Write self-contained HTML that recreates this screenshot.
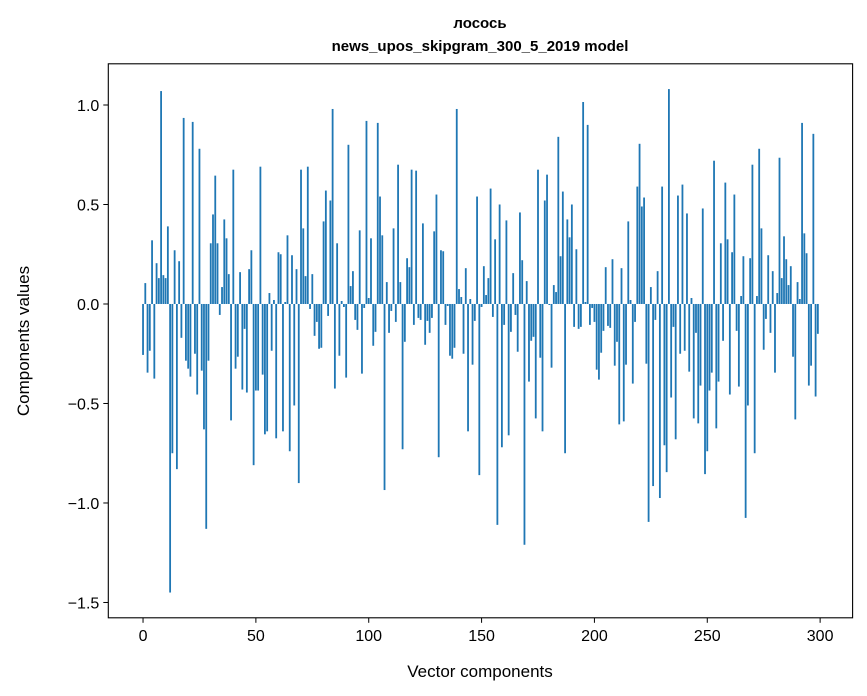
<!DOCTYPE html>
<html><head><meta charset="utf-8"><style>
body{margin:0;background:#fff;}
svg{display:block;font-family:"Liberation Sans","DejaVu Sans",sans-serif;}
</style></head><body>
<svg id="chart" width="867" height="696" viewBox="0 0 867 696" xmlns="http://www.w3.org/2000/svg">
<text x="480" y="28" text-anchor="middle" font-size="15" font-weight="bold">лосось</text>
<text x="480" y="51" text-anchor="middle" font-size="15" font-weight="bold">news_upos_skipgram_300_5_2019 model</text>
<g id="bars"></g>
<g id="axes"></g>
<text x="480" y="677" text-anchor="middle" font-size="17">Vector components</text>
<text transform="translate(29,341) rotate(-90)" text-anchor="middle" font-size="17">Components values</text>
</svg>
<script>
const values = [
-0.256,0.105,-0.345,-0.235,0.32,-0.375,0.205,0.13,1.07,0.145,
0.13,0.39,-1.45,-0.75,0.27,-0.83,0.215,-0.17,0.935,-0.285,
-0.325,-0.365,0.915,-0.25,-0.455,0.78,-0.335,-0.63,-1.13,-0.285,
0.305,0.45,0.645,0.305,-0.055,0.085,0.425,0.33,0.15,-0.585,
0.675,-0.325,-0.265,0.16,-0.43,-0.125,-0.445,0.175,0.27,-0.81,
-0.435,-0.435,0.69,-0.355,-0.655,-0.64,0.055,-0.235,0.02,-0.675,
0.26,0.25,-0.64,0.01,0.345,-0.74,0.245,-0.51,0.175,-0.9,
0.675,0.38,0.14,0.69,-0.025,0.15,-0.16,-0.09,-0.225,-0.22,
0.415,0.57,-0.06,0.52,0.98,-0.425,0.305,-0.26,0.015,-0.015,
-0.37,0.80,0.09,0.165,-0.08,-0.13,0.37,-0.35,-0.02,0.92,
0.03,0.33,-0.21,-0.14,0.91,0.54,0.345,-0.935,0.11,-0.145,
-0.035,0.38,-0.09,0.70,0.11,-0.73,-0.19,0.23,0.185,0.675,
-0.105,0.67,-0.07,-0.08,0.405,-0.205,-0.085,-0.145,-0.07,0.365,
0.55,-0.77,0.27,0.265,-0.105,-0.01,-0.26,-0.275,-0.22,0.98,
0.075,0.035,-0.25,0.18,-0.64,0.025,-0.305,-0.085,0.54,-0.86,
-0.015,0.19,0.045,0.13,0.58,-0.065,0.325,-1.11,0.50,-0.72,
-0.105,0.42,-0.66,-0.14,0.155,-0.055,-0.24,0.46,0.22,-1.21,
0.115,-0.39,-0.185,-0.165,-0.575,0.675,-0.27,-0.64,0.52,0.65,
-0.005,-0.32,0.095,0.06,0.84,0.24,0.565,-0.75,0.425,0.335,
0.50,-0.115,0.275,-0.125,-0.115,1.015,0.01,0.90,-0.105,-0.02,
-0.09,-0.33,-0.38,-0.245,-0.135,0.185,-0.11,-0.12,0.225,-0.31,
-0.19,-0.605,0.18,-0.59,-0.305,0.415,0.02,-0.40,-0.09,0.59,
0.805,0.49,0.535,-0.30,-1.095,0.085,-0.915,-0.08,0.165,-0.975,
0.59,-0.71,-0.845,1.08,-0.47,-0.115,-0.68,0.545,-0.25,0.60,
-0.235,0.455,-0.34,0.03,-0.575,-0.145,-0.60,-0.41,0.48,-0.855,
-0.74,-0.435,-0.345,0.72,-0.625,-0.39,0.305,-0.185,0.61,0.325,
-0.455,0.26,0.55,-0.135,-0.415,0.04,0.24,-1.075,-0.51,0.23,
0.70,-0.75,0.04,0.78,0.38,-0.23,-0.075,0.245,-0.145,0.165,
-0.345,0.055,0.735,0.13,0.34,0.225,0.095,0.19,-0.265,-0.58,
0.11,0.025,0.91,0.355,0.255,-0.41,-0.31,0.855,-0.465,-0.15
];
const xTicks = [0,50,100,150,200,250,300];
const yTicks = [-1.5,-1.0,-0.5,0.0,0.5,1.0];
const yTickLabels = ["\u22121.5","\u22121.0","\u22120.5","0.0","0.5","1.0"];

const NS = "http://www.w3.org/2000/svg";
const L = 108.3, R = 852.6, T = 63.8, B = 617.8;
const xmin = -15.39, xmax = 314.39, ymin = -1.577, ymax = 1.207;
const xs = v => L + (v - xmin) / (xmax - xmin) * (R - L);
const ys = v => B - (v - ymin) / (ymax - ymin) * (B - T);
function mk(tag, attrs, parent){const e=document.createElementNS(NS,tag);for(const k in attrs)e.setAttribute(k,attrs[k]);parent.appendChild(e);return e;}

const bars = document.getElementById('bars');
const bw = xs(0.4) - xs(-0.4);
values.forEach((v,i)=>{
  const y0 = ys(0), y1 = ys(v);
  const r = mk('rect',{x:xs(i)-bw/2,y:Math.min(y0,y1),width:bw,height:Math.max(Math.abs(y1-y0),0.3),fill:'#1f77b4'},bars);
  
  
});

const axes = document.getElementById('axes');
const frame = mk('rect',{x:L,y:T,width:R-L,height:B-T,fill:'none',stroke:'#000','stroke-width':1.1},axes);


xTicks.forEach(t=>{
  const x = xs(t);
  const tk = mk('line',{x1:x,x2:x,y1:B,y2:B+5,stroke:'#000','stroke-width':1},axes);
  
  
  const lb = mk('text',{x:x,y:B+23,'text-anchor':'middle','font-size':16},axes);
  lb.textContent = String(t);
  
  
});
yTicks.forEach((t,i)=>{
  const y = ys(t);
  const tk = mk('line',{x1:L-5,x2:L,y1:y,y2:y,stroke:'#000','stroke-width':1},axes);
  
  
  const lb = mk('text',{x:L-9,y:y+6,'text-anchor':'end','font-size':16},axes);
  lb.textContent = yTickLabels[i];
  
  
});
</script>
</body></html>
